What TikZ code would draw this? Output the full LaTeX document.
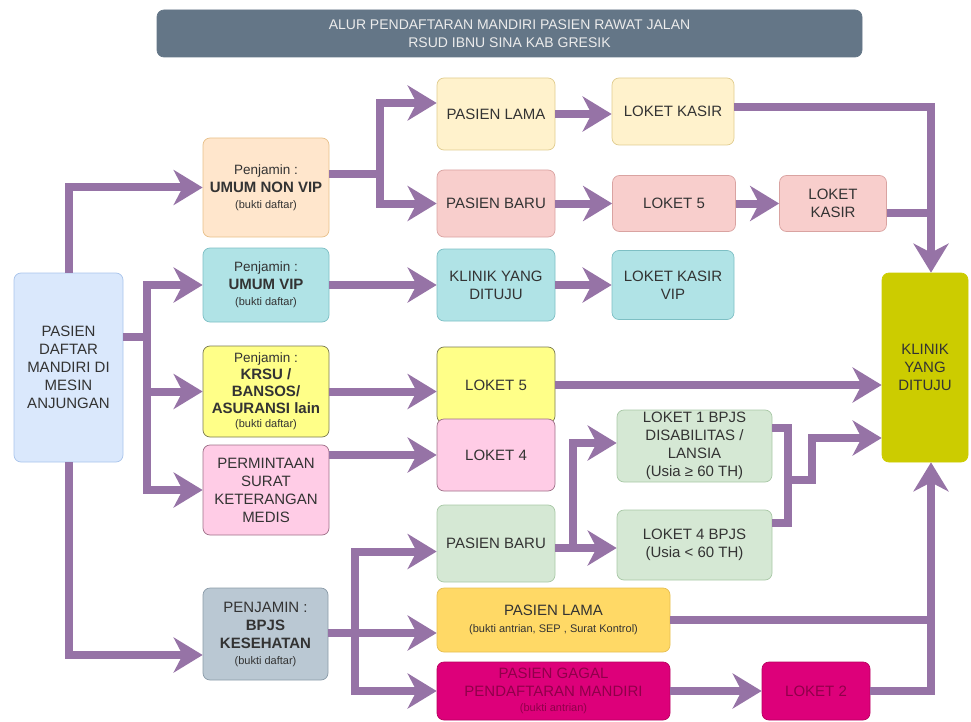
\documentclass[tikz,border=0pt]{standalone}
\usepackage{fontspec}
\setmainfont{Liberation Sans}
\usetikzlibrary{arrows.meta, positioning, calc}
\definecolor{alurungu}{HTML}{9673A6}
\definecolor{teks}{HTML}{333333}
\definecolor{judulisi}{HTML}{647687}
\definecolor{judulteks}{HTML}{ECECEC}
\definecolor{biruisi}{HTML}{DAE8FC}\definecolor{birugaris}{HTML}{A9C4EB}
\definecolor{jinggaisi}{HTML}{FFE6CC}\definecolor{jinggagaris}{HTML}{E8C08A}
\definecolor{tosqisi}{HTML}{B0E3E6}\definecolor{tosqgaris}{HTML}{7DBFC4}
\definecolor{kuningisi}{HTML}{FFFF88}\definecolor{kuninggaris}{HTML}{7A7A50}
\definecolor{merahmudaisi}{HTML}{FFCCE6}\definecolor{merahmudagaris}{HTML}{9E7088}
\definecolor{krimisi}{HTML}{FFF2CC}\definecolor{krimgaris}{HTML}{E0CC8E}
\definecolor{mawarisi}{HTML}{F8CECC}\definecolor{mawargaris}{HTML}{D9A3A1}
\definecolor{abuisi}{HTML}{BAC8D3}\definecolor{abugaris}{HTML}{8A9BA8}
\definecolor{hijauisi}{HTML}{D5E8D4}\definecolor{hijaugaris}{HTML}{A8C8A6}
\definecolor{emasisi}{HTML}{FFD966}\definecolor{emasgaris}{HTML}{E6BE52}
\definecolor{magentaisi}{HTML}{DD007A}\definecolor{magentagaris}{HTML}{B8005F}
\definecolor{magentateks}{HTML}{8F004A}
\definecolor{zaitunisi}{HTML}{CCCC00}
\newcommand{\penjamin}{{\fontsize{13.5}{16}\selectfont Penjamin :}}
\newcommand{\bukti}[1]{{\fontsize{11}{13}\selectfont #1}}

\begin{document}
\begin{tikzpicture}[x=1pt, y=-1pt, on grid,
                box/.style={draw, rounded corners=7pt, align=center, inner sep=1pt, line width=0.7pt, text=teks, font=\fontsize{15}{18}\selectfont},
                flow/.style={draw=alurungu, line width=8pt, -{Stealth[length=29pt, width=35pt, inset=9pt]}},
                link/.style={draw=alurungu, line width=8pt}]
                \useasboundingbox (0,0) rectangle (971,722);
                \node[box, fill=judulisi, draw=judulisi, text=judulteks, minimum width=705pt, minimum height=47pt, font=\fontsize{14}{18}\selectfont] (judul) at (509.5,33.5) {ALUR PENDAFTARAN MANDIRI PASIEN RAWAT JALAN\\RSUD IBNU SINA KAB GRESIK};
                \node[box, fill=biruisi, draw=birugaris, minimum width=109pt, minimum height=189pt] (anjungan) at (68.5,367.5) {PASIEN\\DAFTAR\\MANDIRI DI\\MESIN\\ANJUNGAN};
                \node[box, fill=jinggaisi, draw=jinggagaris, minimum width=126pt, minimum height=99pt] (non_vip) at (266,187.5) {\penjamin\\\textbf{UMUM NON VIP}\\[-2pt]\bukti{(bukti daftar)}};
                \node[box, fill=tosqisi, draw=tosqgaris, minimum width=126pt, minimum height=74pt] (vip) at (266,285) {\penjamin\\\textbf{UMUM VIP}\\[-2pt]\bukti{(bukti daftar)}};
                \node[box, fill=kuningisi, draw=kuninggaris, minimum width=126pt, minimum height=91pt] (krsu) at (266,391.5) {\penjamin\\[-1pt]\textbf{KRSU /}\\[-1pt]\textbf{BANSOS/}\\[-1pt]\textbf{ASURANSI lain}\\[-4pt]\bukti{(bukti daftar)}};
                \node[box, fill=merahmudaisi, draw=merahmudagaris, minimum width=126pt, minimum height=90pt] (surat) at (266,490) {PERMINTAAN\\SURAT\\KETERANGAN\\MEDIS};
                \node[box, fill=abuisi, draw=abugaris, minimum width=125pt, minimum height=92pt] (bpjs) at (265.5,634) {PENJAMIN :\\\textbf{BPJS}\\\textbf{KESEHATAN}\\[-2pt]\bukti{(bukti daftar)}};
                \node[box, fill=krimisi, draw=krimgaris, minimum width=118pt, minimum height=72pt] (lama_a) at (496,114) {PASIEN LAMA};
                \node[box, fill=krimisi, draw=krimgaris, minimum width=122pt, minimum height=67pt] (kasir_a) at (673,111.5) {LOKET KASIR};
                \node[box, fill=mawarisi, draw=mawargaris, minimum width=118pt, minimum height=67pt] (baru_a) at (496,203.5) {PASIEN BARU};
                \node[box, fill=mawarisi, draw=mawargaris, minimum width=123pt, minimum height=56pt] (loket5_b) [right=178pt of baru_a] {LOKET 5};
                \node[box, fill=mawarisi, draw=mawargaris, minimum width=107pt, minimum height=56pt] (kasir_b) [right=159pt of loket5_b] {LOKET\\KASIR};
                \node[box, fill=tosqisi, draw=tosqgaris, minimum width=118pt, minimum height=72pt] (klinik_a) at (496,285) {KLINIK YANG\\DITUJU};
                \node[box, fill=tosqisi, draw=tosqgaris, minimum width=122pt, minimum height=69pt] (kasir_vip) [right=177pt of klinik_a] {LOKET KASIR\\VIP};
                \node[box, fill=kuningisi, draw=kuninggaris, minimum width=118pt, minimum height=76pt] (loket5_a) at (496,385) {LOKET 5};
                \node[box, fill=merahmudaisi, draw=merahmudagaris, minimum width=118pt, minimum height=72pt] (loket4) at (496,455) {LOKET 4};
                \node[box, fill=hijauisi, draw=hijaugaris, minimum width=118pt, minimum height=77pt] (baru_b) at (496,543.5) {PASIEN BARU};
                \node[box, fill=emasisi, draw=emasgaris, minimum width=233pt, minimum height=64pt] (lama_b) at (553.5,620) {PASIEN LAMA\\[-1pt]\bukti{(bukti antrian, SEP , Surat Kontrol)}};
                \node[box, fill=magentaisi, draw=magentagaris, text=magentateks, minimum width=233pt, minimum height=58pt] (gagal) at (553.5,691) {PASIEN GAGAL\\PENDAFTARAN MANDIRI\\[-3pt]\bukti{(bukti antrian)}};
                \node[box, fill=magentaisi, draw=magentagaris, text=magentateks, minimum width=108pt, minimum height=58pt] (loket2) at (816,691) {LOKET 2};
                \node[box, fill=hijauisi, draw=hijaugaris, minimum width=155pt, minimum height=72pt] (bpjs_1) at (694.5,446) {LOKET 1 BPJS\\DISABILITAS /\\LANSIA\\(Usia ≥ 60 TH)};
                \node[box, fill=hijauisi, draw=hijaugaris, minimum width=155pt, minimum height=70pt] (bpjs_4) [below=99pt of bpjs_1] {LOKET 4 BPJS\\(Usia < 60 TH)};
                \node[box, fill=zaitunisi, draw=zaitunisi, minimum width=86pt, minimum height=189pt] (tujuan) at (925,367.5) {KLINIK\\YANG\\DITUJU};
                \coordinate (cabang_a) at (147,337);
                \coordinate (cabang_b) at (380,174);
                \coordinate (cabang_c) at (573,548);
                \coordinate (cabang_d) at (355,633);
                \coordinate (gabung_a) at (788,480);
                \coordinate (gabung_b) at (812,438);
                \coordinate (kanan) at (931,213);
                \draw[flow] (anjungan.north) |- (non_vip.west);
                \draw[link] (anjungan.east |- cabang_a) -- (cabang_a);
                \draw[flow] (cabang_a) |- (vip.west);
                \draw[flow] (cabang_a) |- (krsu.west);
                \draw[flow] (cabang_a) |- (surat.west);
                \draw[flow] (anjungan.south) |- ([yshift=-21pt]bpjs.west);
                \draw[link] (non_vip.east |- cabang_b) -- (cabang_b);
                \draw[flow] (cabang_b) |- ([yshift=11pt]lama_a.west);
                \draw[flow] (cabang_b) |- (baru_a.west);
                \draw[flow] (lama_a.east) -- (lama_a.east -| kasir_a.west);
                \draw[flow] (baru_a) -- (loket5_b);
                \draw[flow] (loket5_b) -- (kasir_b);
                \draw[flow] (vip) -- (klinik_a);
                \draw[flow] (klinik_a) -- (kasir_vip);
                \draw[flow] (krsu.east) -- (krsu.east -| loket5_a.west);
                \draw[flow] (loket5_a.east) -- (loket5_a.east -| tujuan.west);
                \draw[flow] ([yshift=35pt]surat.east) -- (loket4);
                \draw[link] (baru_b.east |- cabang_c) -- (cabang_c);
                \draw[flow] (cabang_c) |- ([yshift=3pt]bpjs_1.west);
                \draw[flow] (cabang_c) -- (cabang_c -| bpjs_4.west);
                \draw[link] ([yshift=18pt]bpjs_1.east) -| (gabung_a);
                \draw[link] ([yshift=22pt]bpjs_4.east) -| (gabung_a);
                \draw[flow] (gabung_a) -| (gabung_b) -- (gabung_b -| tujuan.west);
                \draw[link] (bpjs.east |- cabang_d) -- (cabang_d);
                \draw[flow] (cabang_d) |- ([yshift=-8pt]baru_b.west);
                \draw[flow] (cabang_d) -- (cabang_d -| lama_b.west);
                \draw[flow] (cabang_d) |- (gagal.west);
                \draw[flow] (gagal) -- (loket2);
                \draw[flow] ([yshift=4pt]kasir_a.east) -| (kanan |- tujuan.north);
                \draw[link] (kasir_b.east |- kanan) -- (kanan);
                \draw[link] (lama_b.east) -- (lama_b.east -| kanan);
                \draw[flow] (loket2.east) -| (kanan |- tujuan.south);
\end{tikzpicture}
\end{document}
